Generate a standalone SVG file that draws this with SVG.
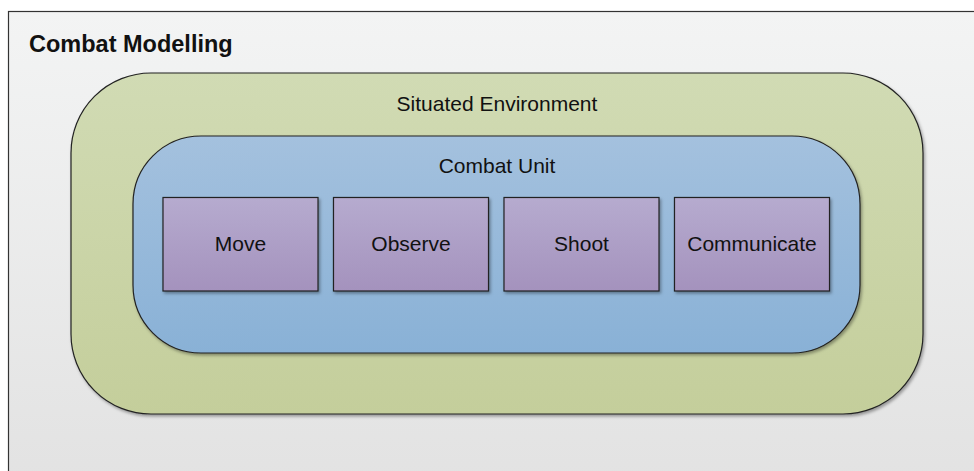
<svg xmlns="http://www.w3.org/2000/svg" width="974" height="471" viewBox="0 0 974 471">
  <defs>
    <linearGradient id="gBg" x1="0" y1="0" x2="0" y2="1">
      <stop offset="0" stop-color="#f3f4f4"/>
      <stop offset="1" stop-color="#e2e2e2"/>
    </linearGradient>
    <linearGradient id="gEnv" x1="0" y1="0" x2="0" y2="1">
      <stop offset="0" stop-color="#d1dbb4"/>
      <stop offset="1" stop-color="#c4ce9b"/>
    </linearGradient>
    <linearGradient id="gUnit" x1="0" y1="0" x2="0" y2="1">
      <stop offset="0" stop-color="#a4c1de"/>
      <stop offset="1" stop-color="#89b1d6"/>
    </linearGradient>
    <linearGradient id="gAct" x1="0" y1="0" x2="0" y2="1">
      <stop offset="0" stop-color="#b6abcf"/>
      <stop offset="1" stop-color="#a492bd"/>
    </linearGradient>
    <filter id="shadow" x="-10%" y="-10%" width="120%" height="130%">
      <feDropShadow dx="1.5" dy="2" stdDeviation="1.5" flood-color="#000" flood-opacity="0.35"/>
    </filter>
  </defs>
  <style>
    .lbl { font-family: "Liberation Sans", Arial, sans-serif; font-size: 21px; fill: #111; text-anchor: middle; }
    .title { font-family: "Liberation Sans", Arial, sans-serif; font-size: 23.5px; font-weight: bold; fill: #111; }
    .shape { stroke: #222; stroke-width: 1.2; filter: url(#shadow); }
    .act { fill: url(#gAct); }
  </style>

  <rect x="0" y="0" width="974" height="471" fill="#ffffff"/>

  <!-- outer frame -->
  <g id="frame">
    <rect x="8.5" y="11.5" width="980" height="480" fill="url(#gBg)" stroke="#333" stroke-width="1.2"/>
    <text class="title" x="29" y="52">Combat Modelling</text>
  </g>

  <!-- environment container -->
  <g id="environment">
    <rect class="shape" x="71" y="73" width="852" height="341" rx="80" ry="80" fill="url(#gEnv)"/>
    <text class="lbl" x="497" y="111">Situated Environment</text>
  </g>

  <!-- combat unit container -->
  <g id="combat-unit">
    <rect class="shape" x="133" y="136" width="727" height="217" rx="68" ry="68" fill="url(#gUnit)"/>
    <text class="lbl" x="497" y="173">Combat Unit</text>
  </g>

  <!-- activities -->
  <g id="move">
    <rect class="shape act" x="163" y="197.5" width="155" height="93.5"/>
    <text class="lbl" x="240.5" y="251">Move</text>
  </g>
  <g id="observe">
    <rect class="shape act" x="333.5" y="197.5" width="155" height="93.5"/>
    <text class="lbl" x="411" y="251">Observe</text>
  </g>
  <g id="shoot">
    <rect class="shape act" x="504" y="197.5" width="155" height="93.5"/>
    <text class="lbl" x="581.5" y="251">Shoot</text>
  </g>
  <g id="communicate">
    <rect class="shape act" x="674.5" y="197.5" width="155" height="93.5"/>
    <text class="lbl" x="752" y="251">Communicate</text>
  </g>

  <g id="connectors"></g>
</svg>
